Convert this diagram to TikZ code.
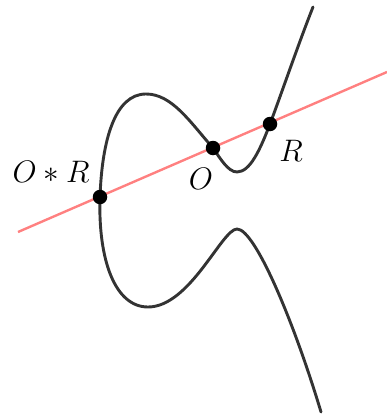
\documentclass[tikz,border=0pt]{standalone}
\usepackage{graphicx}
\tikzset{
  curve/.style={draw=black!80, line width=2.9pt, line join=round, line cap=round},
  redline/.style={draw=red!50, line width=2.4pt},
  dot/.style={circle, fill=black, inner sep=0pt, minimum size=14.5pt},
  lbl/.style={font=\Huge, inner sep=0pt}
}
\begin{document}
\begin{tikzpicture}[x=1pt,y=-1pt]
\useasboundingbox (0,0) rectangle (387,415);
\coordinate (L1) at (18,232);
\coordinate (L2) at (387,72);
\draw[redline] (L1) -- (L2);
\draw[curve] (313,7) .. controls (298,45) and (282,92) .. (270,124)
  .. controls (260,150) and (250,172) .. (237,172)
  .. controls (228,172) and (220,158) .. (213,148)
  .. controls (190,122) and (172,94) .. (146,94)
  .. controls (115,94) and (102,140) .. (100,197)
  .. controls (98,260) and (115,307) .. (148,307)
  .. controls (190,307) and (222,229) .. (237,229)
  .. controls (255,229) and (294,322) .. (321,412);
\node[dot] (R) at (270,124) {};
\node[dot] (O) at (213,148) {};
\node[dot] (OR) at (100,197) {};
\node[lbl] (tOR) at (51,172) {\scalebox{1.25}{$O*R$}};
\node[lbl] (tO) at (201,179) {\scalebox{1.25}{$O$}};
\node[lbl] (tR) at (291,151) {\scalebox{1.25}{$R$}};
\end{tikzpicture}
\end{document}
